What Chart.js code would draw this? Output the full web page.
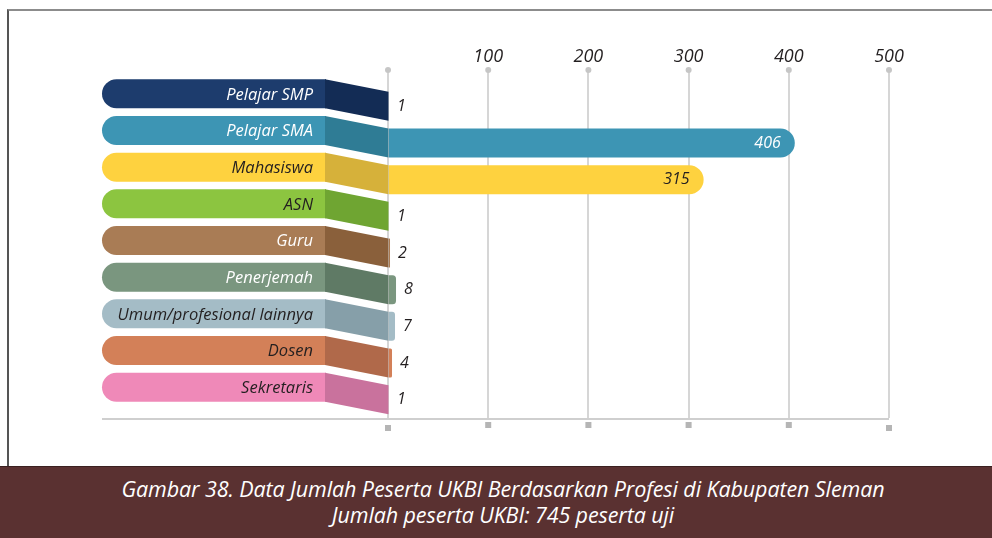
<!DOCTYPE html>
<html>
<head>
<meta charset="utf-8">
<script src="https://cdn.jsdelivr.net/npm/chart.js@4.4.1/dist/chart.umd.min.js"></script>
<style>
  html, body { margin: 0; padding: 0; background: #fff; width: 992px; height: 538px; overflow: hidden; }
  #frame { position: absolute; left: 7px; top: 9px; width: 985px; height: 458px; border-top: 2px solid #8c8c8c; border-left: 2px solid #555; box-sizing: border-box; }
  #wrap { position: absolute; left: 0; top: 0; width: 992px; height: 467px; }
  #caption { position: absolute; left: 0; top: 466px; width: 992px; height: 72px; background: #5a3131; border-top: 1px solid #3a2020; box-sizing: border-box; color: #fff; font-family: "Open Sans", sans-serif; font-style: italic; font-size: 21.5px; line-height: 26px; text-align: center; padding-top: 9px; padding-left: 14px; letter-spacing: -0.1px; }
</style>
</head>
<body>
<div id="frame"></div>
<div id="wrap"><canvas id="c" width="992" height="467"></canvas></div>
<div id="caption">Gambar 38. Data Jumlah Peserta UKBI Berdasarkan Profesi di Kabupaten Sleman<br>Jumlah peserta UKBI: 745 peserta uji</div>
<script>
const categories = ['Pelajar SMP','Pelajar SMA','Mahasiswa','ASN','Guru','Penerjemah','Umum/profesional lainnya','Dosen','Sekretaris'];
const values = [1, 406, 315, 1, 2, 8, 7, 4, 1];
const tickValues = [0, 100, 200, 300, 400, 500];
const barColors = ['#1d3c6d','#3d95b4','#fed23f','#8cc540','#a97c55','#7a967f','#a4bcc6','#d38058','#ef89b8'];
const connectorColors = ['#132c55','#2f7c95','#d6b13a','#6fa532','#8a603b','#5f7a65','#869fa9','#b0694a','#c9729d'];
const labelTextColors = ['#ffffff','#ffffff','#231f20','#231f20','#ffffff','#ffffff','#231f20','#231f20','#231f20'];
const valueTextColors = ['#231f20','#ffffff','#231f20','#231f20','#231f20','#231f20','#231f20','#231f20','#231f20'];

const FONT = '"Open Sans", sans-serif';

const decor = {
  id: 'decor',
  beforeDatasetsDraw(chart) {
    const ctx = chart.ctx;
    const xs = chart.scales.x, ys = chart.scales.y;
    const x0 = xs.getPixelForValue(0);
    const pillLeft = 102, pillRight = 325, h = 29, off = 12.5, r = 14.5;
    ctx.save();
    ctx.strokeStyle = '#cfcfcf';
    ctx.lineWidth = 2;
    ctx.beginPath();
    ctx.moveTo(pillLeft, ys.bottom + 1);
    ctx.lineTo(xs.getPixelForValue(500), ys.bottom + 1);
    ctx.stroke();
    tickValues.forEach(v => {
      const x = xs.getPixelForValue(v);
      ctx.fillStyle = '#c6c6c6';
      ctx.beginPath();
      ctx.arc(x, ys.top - 18, 3, 0, Math.PI * 2);
      ctx.fill();
      ctx.fillStyle = '#b5b5b5';
      const extra = (v === 0 || v === 500) ? 3 : 0;
      ctx.fillRect(x - 3, ys.bottom + 4 + extra, 6, 6);
    });
    categories.forEach((cat, i) => {
      const yc = ys.getPixelForValue(i) - off;
      const top = yc - h / 2, bot = yc + h / 2;
      ctx.fillStyle = barColors[i];
      ctx.beginPath();
      ctx.moveTo(pillLeft + r, top);
      ctx.lineTo(pillRight + 1, top);
      ctx.lineTo(pillRight + 1, bot);
      ctx.lineTo(pillLeft + r, bot);
      ctx.arc(pillLeft + r, yc, h / 2, Math.PI / 2, Math.PI * 1.5);
      ctx.closePath();
      ctx.fill();
      ctx.fillStyle = connectorColors[i];
      ctx.beginPath();
      ctx.moveTo(pillRight, top);
      ctx.lineTo(x0 + 0.5, top + off);
      ctx.lineTo(x0 + 0.5, bot + off);
      ctx.lineTo(pillRight, bot);
      ctx.closePath();
      ctx.fill();
      ctx.fillStyle = labelTextColors[i];
      ctx.font = 'italic 16.5px ' + FONT;
      ctx.textAlign = 'right';
      ctx.textBaseline = 'middle';
      ctx.fillText(cat, 313, yc + 1);
    });
    ctx.restore();
  },
  afterDatasetsDraw(chart) {
    const ctx = chart.ctx;
    const meta = chart.getDatasetMeta(0);
    ctx.save();
    ctx.font = 'italic 16px ' + FONT;
    ctx.textBaseline = 'middle';
    meta.data.forEach((bar, i) => {
      ctx.fillStyle = valueTextColors[i];
      if (values[i] > 100) {
        ctx.textAlign = 'right';
        ctx.fillText(String(values[i]), bar.x - 14, bar.y);
      } else {
        ctx.textAlign = 'left';
        ctx.fillText(String(values[i]), bar.x + 8, bar.y);
      }
    });
    ctx.restore();
  }
};

new Chart(document.getElementById('c'), {
  type: 'bar',
  data: {
    labels: categories,
    datasets: [{
      data: values,
      backgroundColor: barColors,
      borderWidth: 0,
      borderSkipped: 'start',
      borderRadius: { topRight: 15, bottomRight: 15, topLeft: 0, bottomLeft: 0 },
      categoryPercentage: 1,
      barPercentage: 0.79
    }]
  },
  options: {
    indexAxis: 'y',
    responsive: false,
    devicePixelRatio: 1,
    animation: false,
    layout: { padding: { left: 388, right: 103, top: 10, bottom: 49 } },
    plugins: { legend: { display: false }, tooltip: { enabled: false } },
    scales: {
      x: {
        position: 'top',
        min: 0, max: 500,
        afterFit(scale) { scale.height = 78; },
        afterBuildTicks(scale) { scale.ticks = tickValues.map(v => ({ value: v })); },
        ticks: {
          padding: 2,
          color: '#231f20',
          font: { family: FONT, size: 18, style: 'italic' },
          callback: v => (v === 0 ? '' : String(v))
        },
        grid: { color: '#d6d6d6', lineWidth: 2, tickLength: 18, drawTicks: true },
        border: { display: false }
      },
      y: { display: false }
    }
  },
  plugins: [decor]
});
</script>
</body>
</html>
